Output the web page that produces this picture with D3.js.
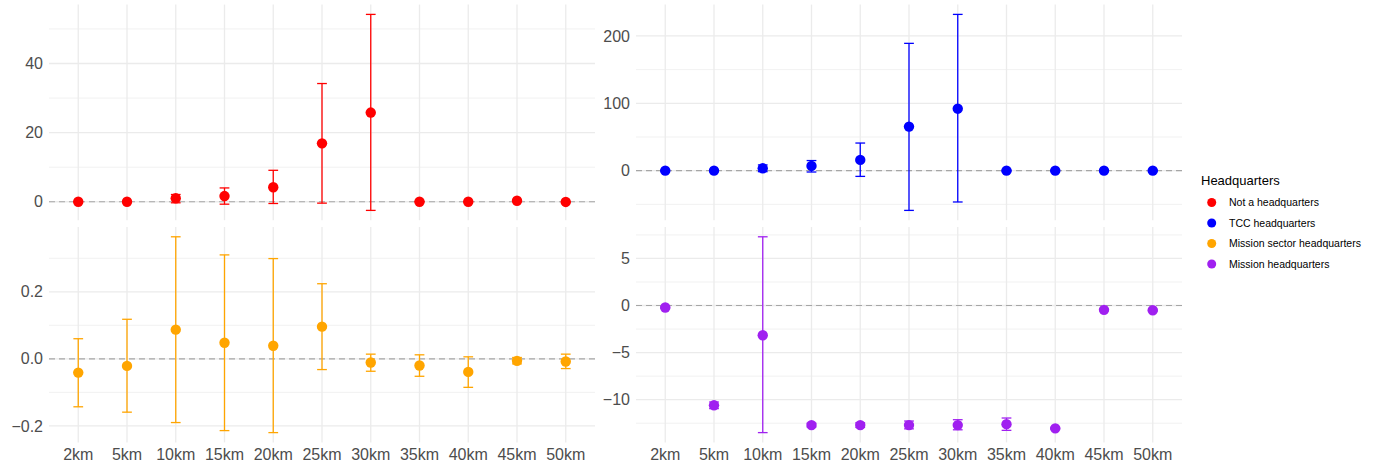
<!DOCTYPE html>
<html>
<head>
<meta charset="utf-8">
<script src="https://cdn.jsdelivr.net/npm/d3@7"></script>
<style>
  body { margin: 0; background: #fff; }
  svg { display: block; font-family: "Liberation Sans", Arial, sans-serif; }
</style>
</head>
<body>
<div id="chart"></div>
<script>
const distances = ["2km", "5km", "10km", "15km", "20km", "25km", "30km", "35km", "40km", "45km", "50km"];

const groups = ["Not a headquarters", "TCC headquarters", "Mission sector headquarters", "Mission headquarters"];
const groupColors = ["#ff0000", "#0000ff", "#ffa500", "#a020f0"];

// estimates with lower / upper bounds
const notHqEst = [0, 0, 1.0, 1.65, 4.2, 16.9, 25.8, 0, 0, 0.3, -0.05];
const notHqLo  = [-0.1, -0.1, -0.3, -0.7, -0.5, -0.4, -2.5, -0.1, -0.1, 0.1, -0.15];
const notHqHi  = [0.1, 0.1, 2.1, 4.0, 9.1, 34.2, 54.2, 0.1, 0.1, 0.5, 0.05];

const tccEst = [0, 0, 3.5, 7, 16, 65.4, 92, 0, 0, 0, 0];
const tccLo  = [-1, -1, -1.5, -2, -8.5, -59, -46.5, -1, -1, -1, -1];
const tccHi  = [1, 1, 8.5, 15, 41, 189, 232, 1, 1, 1, 1];

const sectorEst = [-0.041, -0.021, 0.087, 0.048, 0.039, 0.096, -0.011, -0.020, -0.039, -0.006, -0.008];
const sectorLo  = [-0.143, -0.159, -0.190, -0.214, -0.220, -0.032, -0.037, -0.052, -0.085, -0.015, -0.029];
const sectorHi  = [0.060, 0.118, 0.364, 0.310, 0.299, 0.224, 0.014, 0.012, 0.006, 0.004, 0.014];

const missionEst = [-0.21, -10.6, -3.16, -12.7, -12.7, -12.7, -12.7, -12.6, -13.05, -0.46, -0.5];
const missionLo  = [-0.3, -10.95, -13.5, -12.9, -12.95, -13.1, -13.2, -13.26, -13.15, -0.55, -0.6];
const missionHi  = [-0.12, -10.25, 7.3, -12.5, -12.45, -12.27, -12.13, -11.95, -12.95, -0.37, -0.4];

const notHqTicks = [0, 20, 40];
const tccTicks = [0, 100, 200];
const sectorTicks = [-0.2, 0, 0.2];
const missionTicks = [-10, -5, 0, 5];

const panels = [
  { est: notHqEst, lo: notHqLo, hi: notHqHi, ticks: notHqTicks, fmt: d3.format("d"), color: groupColors[0], x0: 49, x1: 595, y0: 4.6, y1: 220.2 },
  { est: tccEst, lo: tccLo, hi: tccHi, ticks: tccTicks, fmt: d3.format("d"), color: groupColors[1], x0: 636, x1: 1182, y0: 4.6, y1: 220.2 },
  { est: sectorEst, lo: sectorLo, hi: sectorHi, ticks: sectorTicks, fmt: d3.format(".1f"), color: groupColors[2], x0: 49, x1: 595, y0: 227, y1: 442.4, xLabels: true },
  { est: missionEst, lo: missionLo, hi: missionHi, ticks: missionTicks, fmt: d3.format("d"), color: groupColors[3], x0: 636, x1: 1182, y0: 227, y1: 442.4, xLabels: true }
];

const width = 1382, height = 467;
const svg = d3.select("#chart")
  .append("svg")
    .attr("width", width)
    .attr("height", height);

const fmtMinus = s => s.replace("-", "\u2212");

panels.forEach(p => {
  const lo = d3.min(p.lo), hi = d3.max(p.hi);
  const pad = (hi - lo) * 0.05;

  const xScale = d3.scalePoint()
    .domain(distances)
    .range([p.x0, p.x1])
    .padding(0.6);

  const yScale = d3.scaleLinear()
    .domain([lo - pad, hi + pad])
    .range([p.y1, p.y0]);

  const g = svg.append("g");

  // minor grid: halfway between major ticks, plus one step beyond each end
  const step = p.ticks[1] - p.ticks[0];
  const minor = d3.range(p.ticks.length + 1)
    .map(i => p.ticks[0] - step / 2 + i * step)
    .filter(v => v >= yScale.domain()[0] && v <= yScale.domain()[1]);

  g.selectAll("line.minor")
    .data(minor)
    .join("line")
    .attr("class", "minor")
    .attr("x1", p.x0).attr("x2", p.x1)
    .attr("y1", d => yScale(d)).attr("y2", d => yScale(d))
    .attr("stroke", "#ebebeb")
    .attr("stroke-width", 0.7);

  g.selectAll("line.major")
    .data(p.ticks)
    .join("line")
    .attr("class", "major")
    .attr("x1", p.x0).attr("x2", p.x1)
    .attr("y1", d => yScale(d)).attr("y2", d => yScale(d))
    .attr("stroke", "#ebebeb")
    .attr("stroke-width", 1.3);

  g.selectAll("line.vgrid")
    .data(distances)
    .join("line")
    .attr("class", "vgrid")
    .attr("x1", d => xScale(d)).attr("x2", d => xScale(d))
    .attr("y1", p.y0).attr("y2", p.y1)
    .attr("stroke", "#ebebeb")
    .attr("stroke-width", 1.3);

  // y tick labels
  g.selectAll("text.ytick")
    .data(p.ticks)
    .join("text")
    .attr("class", "ytick")
    .text(d => fmtMinus(p.fmt(d)))
    .attr("x", p.x0 - 6)
    .attr("y", d => yScale(d))
    .attr("dy", "0.35em")
    .attr("text-anchor", "end")
    .attr("fill", "#4d4d4d")
    .style("font-size", "16px");

  if (p.xLabels) {
    g.selectAll("text.xtick")
      .data(distances)
      .join("text")
      .attr("class", "xtick")
      .text(d => d)
      .attr("x", d => xScale(d))
      .attr("y", 460)
      .attr("text-anchor", "middle")
      .attr("fill", "#4d4d4d")
      .style("font-size", "16px");
  }

  // zero reference line
  g.append("line")
    .attr("x1", p.x0).attr("x2", p.x1)
    .attr("y1", yScale(0)).attr("y2", yScale(0))
    .attr("stroke", "#a6a6a6")
    .attr("stroke-width", 1.1)
    .attr("stroke-dasharray", "6,4");

  const rows = distances.map((d, i) => ({ d, est: p.est[i], lo: p.lo[i], hi: p.hi[i] }));
  const cap = xScale.step() * 0.1;

  const bars = g.selectAll("g.err")
    .data(rows)
    .join("g")
    .attr("class", "err")
    .attr("stroke", p.color)
    .attr("stroke-width", 1.3);

  bars.append("line")
    .attr("x1", r => xScale(r.d)).attr("x2", r => xScale(r.d))
    .attr("y1", r => yScale(r.lo)).attr("y2", r => yScale(r.hi));
  bars.append("line")
    .attr("x1", r => xScale(r.d) - cap).attr("x2", r => xScale(r.d) + cap)
    .attr("y1", r => yScale(r.lo)).attr("y2", r => yScale(r.lo));
  bars.append("line")
    .attr("x1", r => xScale(r.d) - cap).attr("x2", r => xScale(r.d) + cap)
    .attr("y1", r => yScale(r.hi)).attr("y2", r => yScale(r.hi));

  g.selectAll("circle.pt")
    .data(rows)
    .join("circle")
    .attr("class", "pt")
    .attr("cx", r => xScale(r.d))
    .attr("cy", r => yScale(r.est))
    .attr("r", 5.2)
    .attr("fill", p.color);
});

// legend
const legend = svg.append("g").attr("transform", "translate(1201, 0)");
legend.append("text")
  .text("Headquarters")
  .attr("x", 0)
  .attr("y", 180)
  .attr("dy", "0.35em")
  .attr("fill", "#000")
  .style("font-size", "13px");

const legendY = d3.scalePoint().domain(groups).range([202.5, 264]);

const item = legend.selectAll("g.item")
  .data(groups)
  .join("g")
  .attr("class", "item")
  .attr("transform", d => `translate(0, ${legendY(d)})`);

item.append("circle")
  .attr("cx", 10.7)
  .attr("cy", 0)
  .attr("r", 4.5)
  .attr("fill", (d, i) => groupColors[i]);

item.append("text")
  .text(d => d)
  .attr("x", 28)
  .attr("y", 0)
  .attr("dy", "0.35em")
  .attr("fill", "#000")
  .style("font-size", "10.5px");
</script>
</body>
</html>
